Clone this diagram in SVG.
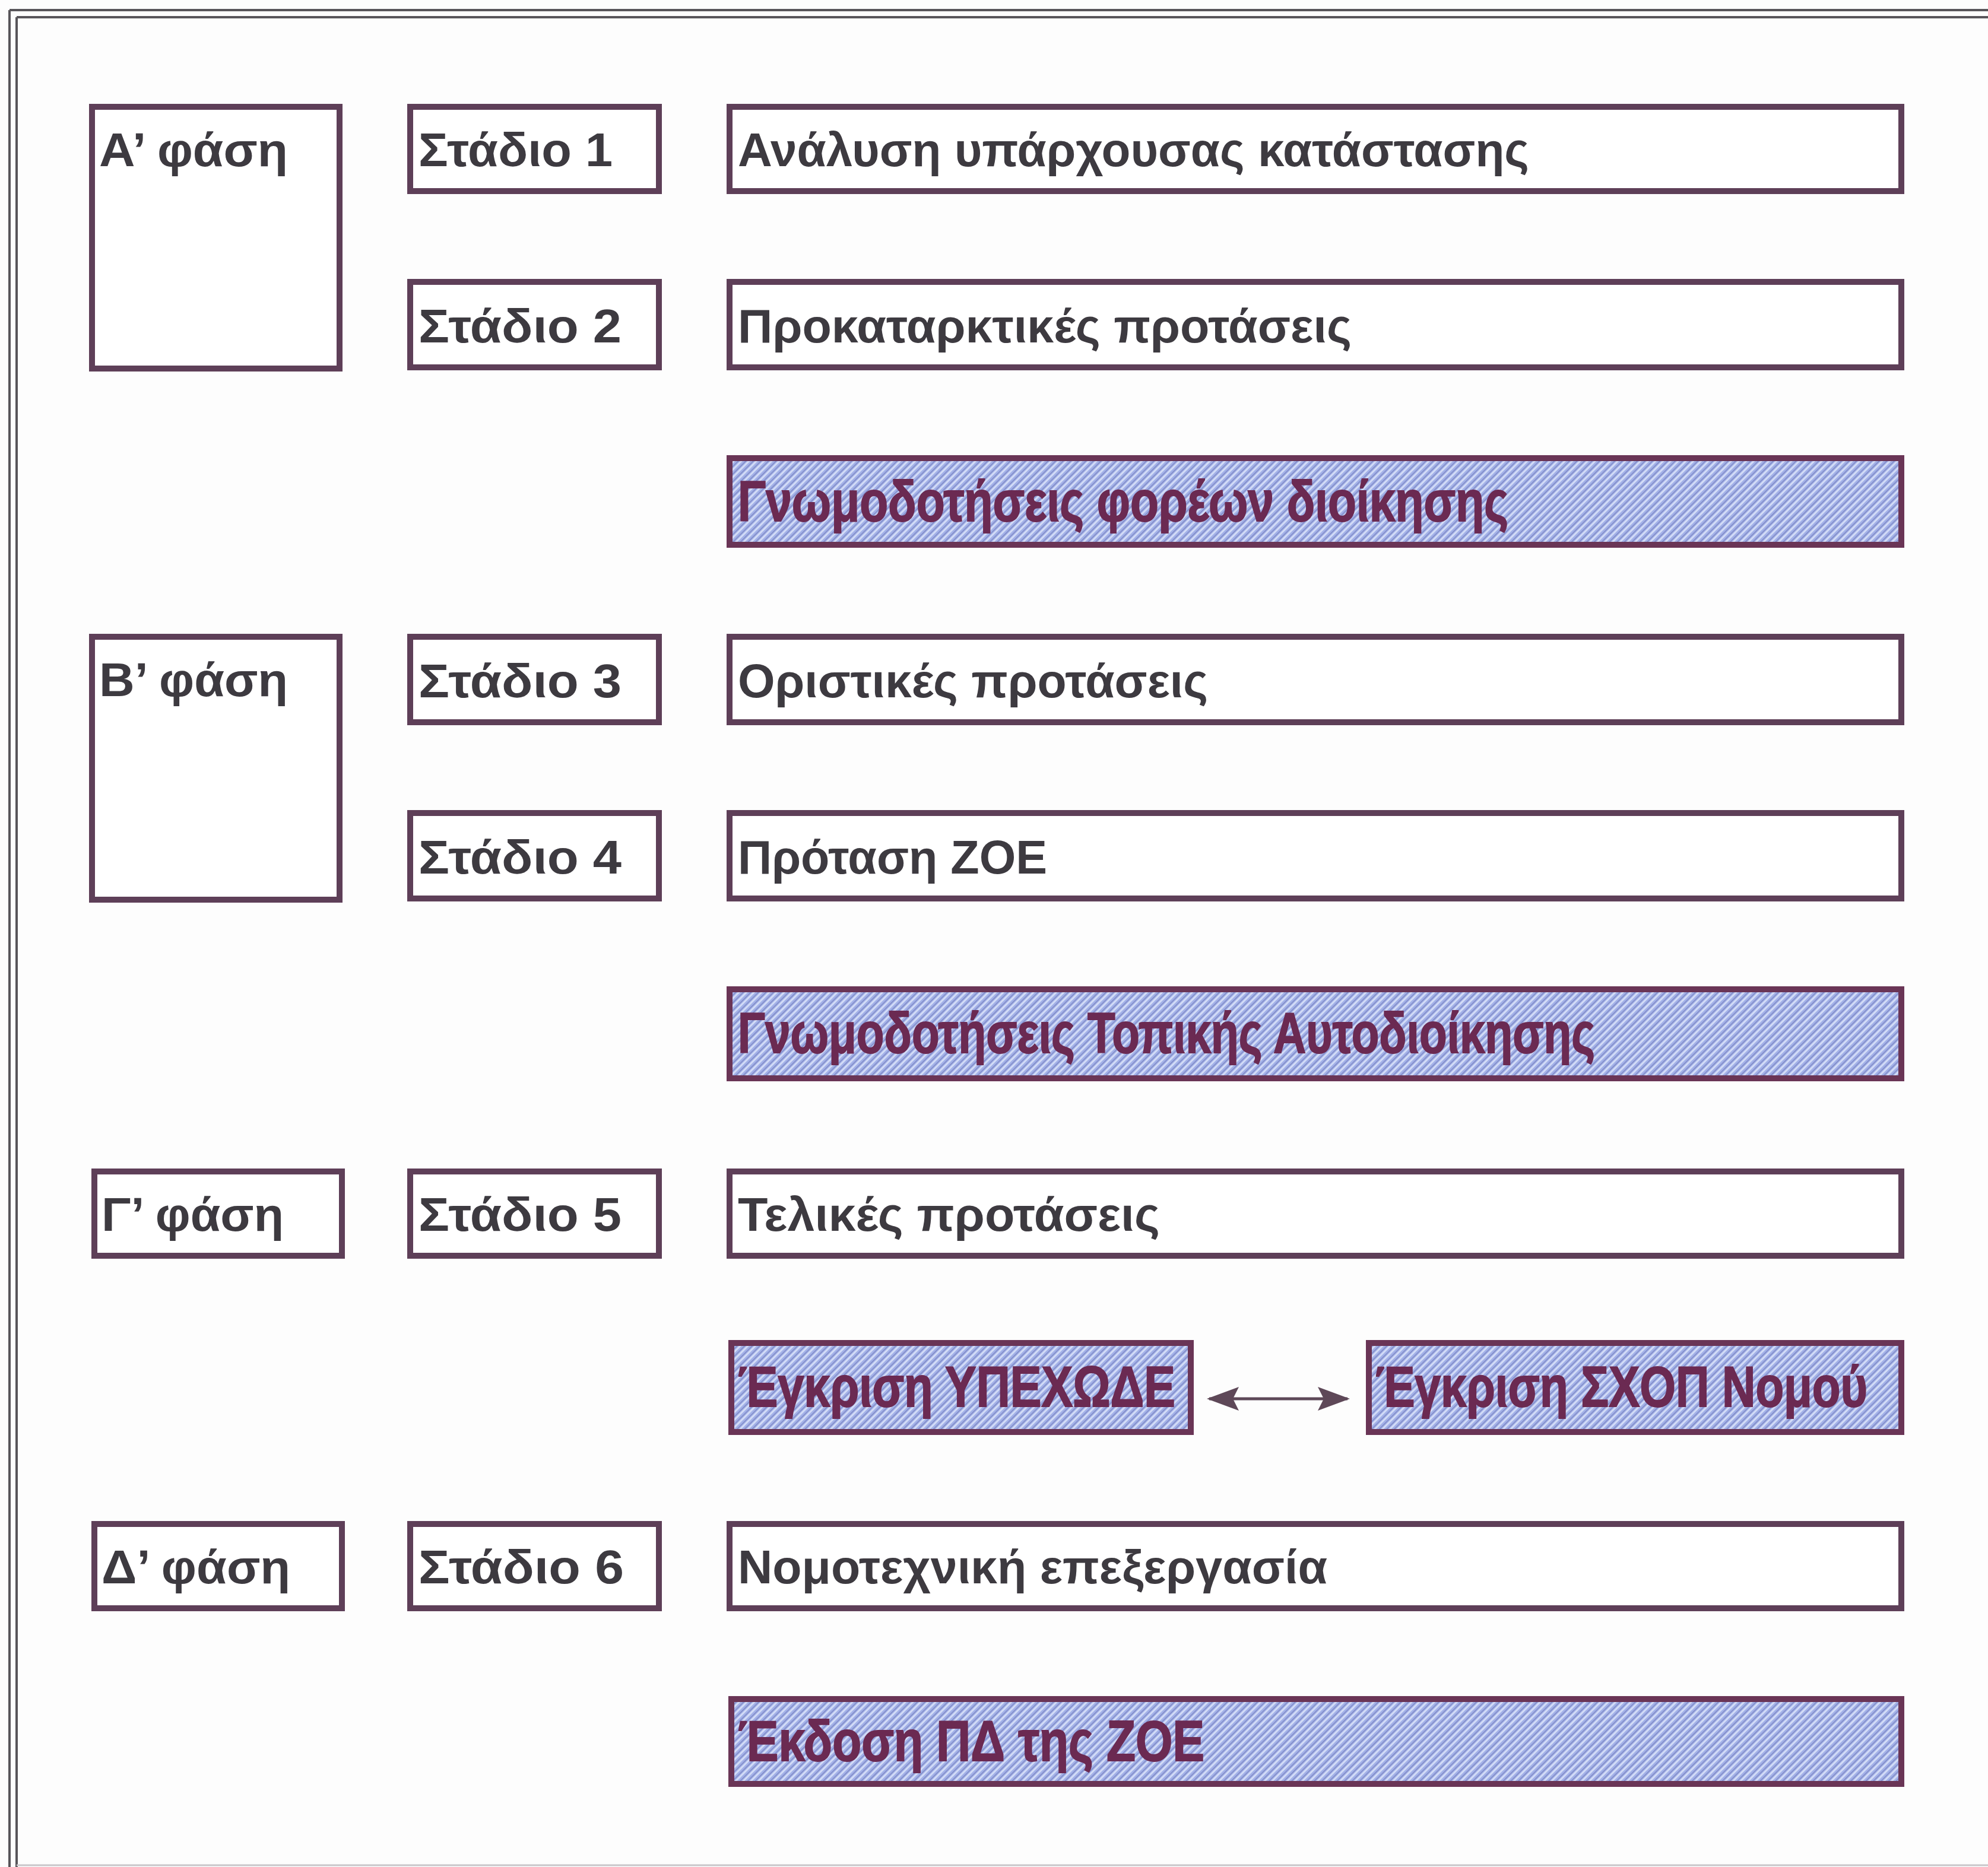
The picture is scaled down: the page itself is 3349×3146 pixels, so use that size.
<svg xmlns="http://www.w3.org/2000/svg" width="3349" height="3146" viewBox="0 0 3349 3146">
<defs>
<pattern id="hatch" width="9" height="9" patternUnits="userSpaceOnUse" patternTransform="rotate(45)">
<rect width="9" height="9" fill="#a3b1e8"/>
<rect x="0" y="0" width="3" height="9" fill="#d3dcf6"/>
<rect x="6" y="0" width="1.5" height="9" fill="#7d88c4"/>
</pattern>
<marker id="ah" viewBox="0 0 54 40" refX="50" refY="20" markerWidth="54" markerHeight="40" markerUnits="userSpaceOnUse" orient="auto-start-reverse">
<path d="M0,0 L54,20 L0,40 L10,20 Z" fill="#5e4858"/>
</marker>
<style>
.box{fill:#fff;stroke:#5e3f58;stroke-width:10}
.hbox{fill:url(#hatch);stroke:#6a3556;stroke-width:10}
.t{font-family:"Liberation Sans",Arial,sans-serif;font-weight:bold;font-size:80px;fill:#3d3a40}
.ht{font-family:"Liberation Sans",Arial,sans-serif;font-weight:bold;font-size:96px;fill:#6b2a52;stroke:#6b2a52;stroke-width:2}
.frame{stroke:#58555a;stroke-width:4;fill:none}
</style>
</defs>
<rect width="3349" height="3146" fill="#fdfdfd"/>
<g id="frame">
<line class="frame" x1="16" y1="17" x2="3349" y2="17"/>
<line class="frame" x1="28" y1="29" x2="3349" y2="29"/>
<line class="frame" x1="16" y1="17" x2="16" y2="3146"/>
<line class="frame" x1="28" y1="29" x2="28" y2="3146"/>
<line x1="28" y1="3143" x2="3349" y2="3143" stroke="#c8c6ca" stroke-width="3"/>
</g>
<g id="phaseA"><rect class="box" x="155" y="180" width="417" height="441"/><text class="t" x="167" y="280" textLength="318" lengthAdjust="spacingAndGlyphs">Α’ φάση</text></g>
<g id="phaseB"><rect class="box" x="155" y="1073" width="417" height="443"/><text class="t" x="167" y="1173" textLength="318" lengthAdjust="spacingAndGlyphs">Β’ φάση</text></g>
<g id="phaseC"><rect class="box" x="159" y="1974" width="417" height="142"/><text class="t" x="171" y="2074" textLength="307" lengthAdjust="spacingAndGlyphs">Γ’ φάση</text></g>
<g id="phaseD"><rect class="box" x="159" y="2568" width="417" height="142"/><text class="t" x="171" y="2668" textLength="318" lengthAdjust="spacingAndGlyphs">Δ’ φάση</text></g>
<g id="stage1"><rect class="box" x="691" y="180" width="419" height="142"/><text class="t" x="705" y="280" textLength="327" lengthAdjust="spacingAndGlyphs">Στάδιο 1</text></g>
<g id="stage2"><rect class="box" x="691" y="475" width="419" height="144"/><text class="t" x="705" y="577" textLength="342" lengthAdjust="spacingAndGlyphs">Στάδιο 2</text></g>
<g id="stage3"><rect class="box" x="691" y="1073" width="419" height="144"/><text class="t" x="705" y="1175" textLength="342" lengthAdjust="spacingAndGlyphs">Στάδιο 3</text></g>
<g id="stage4"><rect class="box" x="691" y="1370" width="419" height="144"/><text class="t" x="705" y="1472" textLength="342" lengthAdjust="spacingAndGlyphs">Στάδιο 4</text></g>
<g id="stage5"><rect class="box" x="691" y="1974" width="419" height="142"/><text class="t" x="705" y="2074" textLength="342" lengthAdjust="spacingAndGlyphs">Στάδιο 5</text></g>
<g id="stage6"><rect class="box" x="691" y="2568" width="419" height="142"/><text class="t" x="705" y="2668" textLength="346" lengthAdjust="spacingAndGlyphs">Στάδιο 6</text></g>
<g id="row1"><rect class="box" x="1229" y="180" width="1974" height="142"/><text class="t" x="1243" y="280" textLength="1333" lengthAdjust="spacingAndGlyphs">Ανάλυση υπάρχουσας κατάστασης</text></g>
<g id="row2"><rect class="box" x="1229" y="475" width="1974" height="144"/><text class="t" x="1243" y="577" textLength="1034" lengthAdjust="spacingAndGlyphs">Προκαταρκτικές προτάσεις</text></g>
<g id="row3"><rect class="hbox" x="1229" y="772" width="1974" height="146"/><text class="ht" x="1243" y="878" textLength="1298" lengthAdjust="spacingAndGlyphs">Γνωμοδοτήσεις φορέων διοίκησης</text></g>
<g id="row4"><rect class="box" x="1229" y="1073" width="1974" height="144"/><text class="t" x="1243" y="1175" textLength="792" lengthAdjust="spacingAndGlyphs">Οριστικές προτάσεις</text></g>
<g id="row5"><rect class="box" x="1229" y="1370" width="1974" height="144"/><text class="t" x="1243" y="1472" textLength="521" lengthAdjust="spacingAndGlyphs">Πρόταση ΖΟΕ</text></g>
<g id="row6"><rect class="hbox" x="1229" y="1667" width="1974" height="150"/><text class="ht" x="1243" y="1774" textLength="1444" lengthAdjust="spacingAndGlyphs">Γνωμοδοτήσεις Τοπικής Αυτοδιοίκησης</text></g>
<g id="row7"><rect class="box" x="1229" y="1974" width="1974" height="142"/><text class="t" x="1243" y="2074" textLength="711" lengthAdjust="spacingAndGlyphs">Τελικές προτάσεις</text></g>
<g id="row8a"><rect class="hbox" x="1232" y="2263" width="774" height="150"/><text class="ht" x="1243" y="2370" textLength="737" lengthAdjust="spacingAndGlyphs">Έγκριση ΥΠΕΧΩΔΕ</text></g>
<g id="row8b"><rect class="hbox" x="2306" y="2263" width="897" height="150"/><text class="ht" x="2317" y="2370" textLength="829" lengthAdjust="spacingAndGlyphs">Έγκριση ΣΧΟΠ Νομού</text></g>
<g id="row9"><rect class="box" x="1229" y="2568" width="1974" height="142"/><text class="t" x="1243" y="2668" textLength="993" lengthAdjust="spacingAndGlyphs">Νομοτεχνική επεξεργασία</text></g>
<g id="row10"><rect class="hbox" x="1232" y="2863" width="1971" height="143"/><text class="ht" x="1243" y="2967" textLength="786" lengthAdjust="spacingAndGlyphs">Έκδοση ΠΔ της ΖΟΕ</text></g>
<g id="connectors">
<line x1="2037" y1="2357" x2="2270" y2="2357" stroke="#5e4858" stroke-width="5" marker-start="url(#ah)" marker-end="url(#ah)"/>
</g>
</svg>
